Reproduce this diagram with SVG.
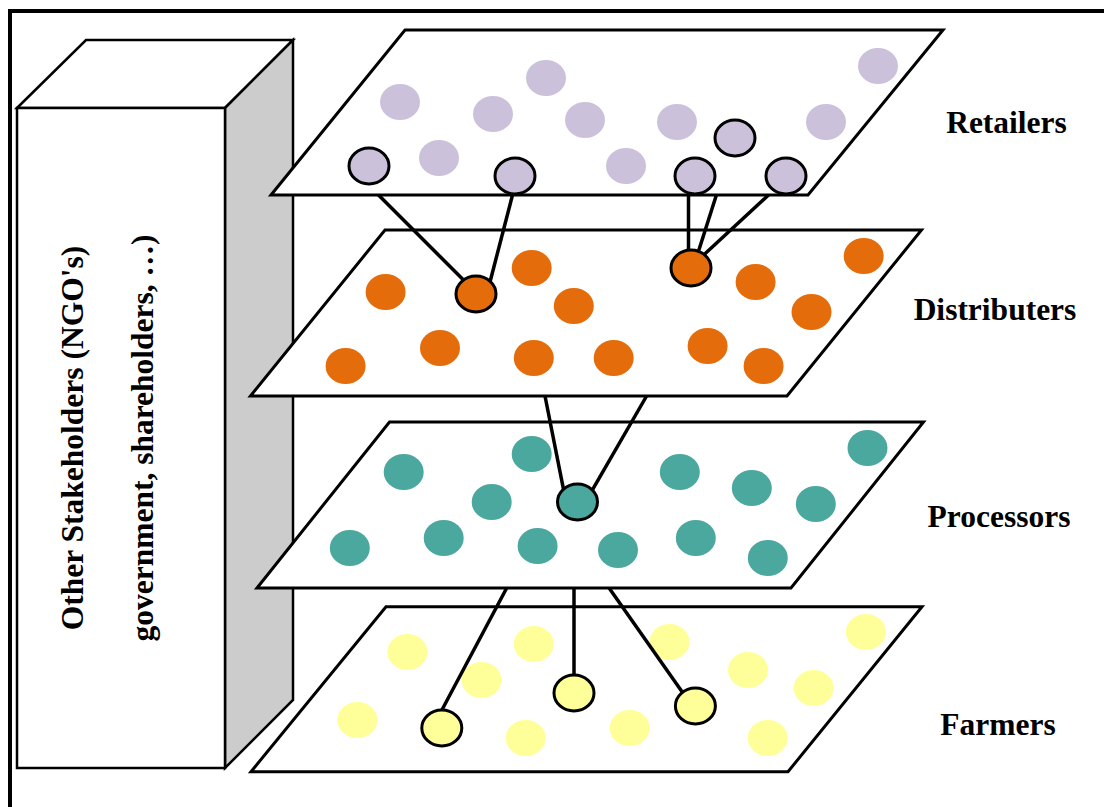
<svg xmlns="http://www.w3.org/2000/svg" width="1104" height="807" viewBox="0 0 1104 807">
<style>
.plane{fill:#ffffff;stroke:#000;stroke-width:3;stroke-linejoin:miter}
.box{stroke:#000;stroke-width:2.5;stroke-linejoin:miter}
.c{stroke:none}
.o{stroke:#000;stroke-width:3}
.ret{fill:#CCC1DA}
.dis{fill:#E46C0A}
.pro{fill:#4BA89F}
.far{fill:#FFFF99}
.lbl{font-family:"Liberation Serif","Times New Roman",serif;font-weight:bold;font-size:31.5px;fill:#000;text-anchor:middle}
.con line{stroke:#000;stroke-width:3.5}
</style>
<rect width="1104" height="807" fill="#fff"/>
<rect x="10" y="11" width="1200" height="900" fill="none" stroke="#000" stroke-width="4"/>

<g id="stakeholders">
  <polygon class="box" points="17,108 86,40 293,40 225,108" fill="#fff"/>
  <polygon class="box" points="225,108 293,40 293,700 225,768" fill="#cccccc"/>
  <rect class="box" x="17" y="108" width="208" height="660" fill="#fff"/>
  <text class="lbl" transform="translate(83,438) rotate(-90)">Other Stakeholders (NGO's)</text>
  <text class="lbl" transform="translate(153,438) rotate(-90)">government, shareholders, …)</text>
</g>

<g id="farmers">
  <polygon class="plane" points="251,771.7 386,606.7 922,606.7 788,771.7"/>
  <g class="far">
    <ellipse class="c" cx="407.4" cy="652" rx="20" ry="18"/>
    <ellipse class="c" cx="533.8" cy="644" rx="20" ry="18"/>
    <ellipse class="c" cx="481.5" cy="680" rx="20" ry="18"/>
    <ellipse class="c" cx="357.4" cy="720" rx="20" ry="18"/>
    <ellipse class="c" cx="525.7" cy="738" rx="20" ry="18"/>
    <ellipse class="c" cx="629.7" cy="728" rx="20" ry="18"/>
    <ellipse class="c" cx="669.5" cy="642" rx="20" ry="18"/>
    <ellipse class="c" cx="748" cy="670" rx="20" ry="18"/>
    <ellipse class="c" cx="813.7" cy="688" rx="20" ry="18"/>
    <ellipse class="c" cx="767.7" cy="738" rx="20" ry="18"/>
    <ellipse class="c" cx="865.9" cy="632" rx="20" ry="18"/>
    <ellipse class="o" cx="441.8" cy="728" rx="20" ry="18"/>
    <ellipse class="o" cx="574" cy="693" rx="20" ry="18"/>
    <ellipse class="o" cx="695.4" cy="706" rx="20" ry="18"/>
  </g>
  <text class="lbl" x="998" y="735">Farmers</text>
</g>

<g id="processors">
  <polygon class="plane" points="257,588 389.5,422 923.5,422 791,588"/>
  <g class="pro">
    <ellipse class="c" cx="403.7" cy="472" rx="20" ry="18"/>
    <ellipse class="c" cx="531.7" cy="454" rx="20" ry="18"/>
    <ellipse class="c" cx="491.7" cy="502" rx="20" ry="18"/>
    <ellipse class="c" cx="349.8" cy="548" rx="20" ry="18"/>
    <ellipse class="c" cx="443.7" cy="538" rx="20" ry="18"/>
    <ellipse class="c" cx="537.6" cy="546" rx="20" ry="18"/>
    <ellipse class="c" cx="618" cy="550" rx="20" ry="18"/>
    <ellipse class="c" cx="679.8" cy="472" rx="20" ry="18"/>
    <ellipse class="c" cx="751.8" cy="488" rx="20" ry="18"/>
    <ellipse class="c" cx="815.8" cy="504" rx="20" ry="18"/>
    <ellipse class="c" cx="695.8" cy="538" rx="20" ry="18"/>
    <ellipse class="c" cx="767.8" cy="558" rx="20" ry="18"/>
    <ellipse class="c" cx="867.5" cy="448" rx="20" ry="18"/>
    <ellipse class="o" cx="577.5" cy="502" rx="20" ry="18"/>
  </g>
  <text class="lbl" x="999" y="527">Processors</text>
</g>

<g id="distributers">
  <polygon class="plane" points="250.5,396 385,230 921.5,230 787,396"/>
  <g class="dis">
    <ellipse class="c" cx="385.6" cy="292" rx="20" ry="18"/>
    <ellipse class="c" cx="531.7" cy="268" rx="20" ry="18"/>
    <ellipse class="c" cx="573.8" cy="306" rx="20" ry="18"/>
    <ellipse class="c" cx="345.6" cy="366" rx="20" ry="18"/>
    <ellipse class="c" cx="440" cy="348" rx="20" ry="18"/>
    <ellipse class="c" cx="533.8" cy="358" rx="20" ry="18"/>
    <ellipse class="c" cx="613.7" cy="358" rx="20" ry="18"/>
    <ellipse class="c" cx="707.6" cy="346" rx="20" ry="18"/>
    <ellipse class="c" cx="755.6" cy="282" rx="20" ry="18"/>
    <ellipse class="c" cx="811.5" cy="312" rx="20" ry="18"/>
    <ellipse class="c" cx="763.6" cy="366" rx="20" ry="18"/>
    <ellipse class="c" cx="863.7" cy="256" rx="20" ry="18"/>
    <ellipse class="o" cx="476" cy="294" rx="20" ry="18"/>
    <ellipse class="o" cx="691" cy="268" rx="20" ry="18"/>
  </g>
  <text class="lbl" x="995" y="320">Distributers</text>
</g>

<g id="retailers">
  <polygon class="plane" points="271,195 405,30 943,30 808,195"/>
  <g class="ret">
    <ellipse class="c" cx="400" cy="102" rx="20" ry="18"/>
    <ellipse class="c" cx="439" cy="158" rx="20" ry="18"/>
    <ellipse class="c" cx="493" cy="114" rx="20" ry="18"/>
    <ellipse class="c" cx="546" cy="78" rx="20" ry="18"/>
    <ellipse class="c" cx="585" cy="120" rx="20" ry="18"/>
    <ellipse class="c" cx="626" cy="166" rx="20" ry="18"/>
    <ellipse class="c" cx="677" cy="122" rx="20" ry="18"/>
    <ellipse class="c" cx="826" cy="122" rx="20" ry="18"/>
    <ellipse class="c" cx="878" cy="66" rx="20" ry="18"/>
    <ellipse class="o" cx="369" cy="166" rx="20" ry="18"/>
    <ellipse class="o" cx="515" cy="176" rx="20" ry="18"/>
    <ellipse class="o" cx="695" cy="176" rx="20" ry="18"/>
    <ellipse class="o" cx="735" cy="138" rx="20" ry="18"/>
    <ellipse class="o" cx="786" cy="176" rx="20" ry="18"/>
  </g>
  <text class="lbl" x="1006.5" y="133">Retailers</text>
</g>

<g id="connectors" class="con">
  <line x1="378.5" y1="195" x2="463.5" y2="280"/>
  <line x1="512.5" y1="195" x2="490.2" y2="281.2"/>
  <line x1="688.5" y1="195" x2="688.5" y2="250.2"/>
  <line x1="716.4" y1="195" x2="698.5" y2="251.2"/>
  <line x1="768.5" y1="195" x2="704.2" y2="254.5"/>
  <line x1="545" y1="396" x2="563.5" y2="489.3"/>
  <line x1="646.6" y1="396" x2="592.4" y2="489.9"/>
  <line x1="506.7" y1="588" x2="441.9" y2="710"/>
  <line x1="574" y1="588" x2="574" y2="675"/>
  <line x1="609.1" y1="588" x2="682.4" y2="692.3"/>
</g>
</svg>
